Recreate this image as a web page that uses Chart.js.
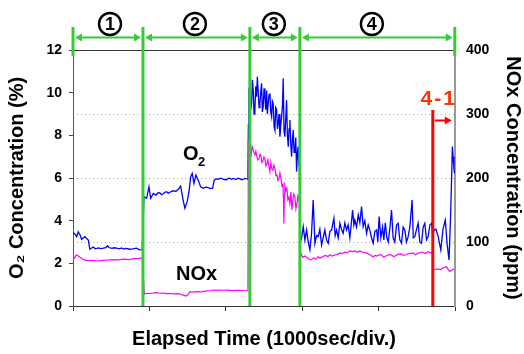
<!DOCTYPE html>
<html>
<head>
<meta charset="UTF-8">
<title>O2 / NOx concentration</title>
<script src="https://cdn.jsdelivr.net/npm/chart.js"></script>
<style>
  body { margin: 0; background: #fff; }
  #wrap { width: 524px; height: 354px; }
</style>
</head>
<body>
<div id="wrap"><canvas id="chart" width="524" height="354"></canvas></div>
<script>
// time in seconds (1 div = 1000 s)
const phaseEdges = [0, 936, 2366, 3035, 5107];
const phaseLabels = ['1', '2', '3', '4'];
const phaseLabelTimes = [495, 1631, 2687, 3998];
const subPhaseTime = 4813;
const subPhaseLabel = '4-1';

// O2 (%), left axis
const o2T1 = [0, 25, 50, 70, 95, 115, 140, 160, 185, 205, 225, 250, 270, 300, 340, 370, 405, 440, 460, 480, 520, 550, 585, 620, 650, 675, 710, 760, 800, 850, 890, 925];
const o2V1 = [3.45, 3.38, 3.25, 3.48, 3.33, 3.12, 3.20, 3.25, 3.15, 3.09, 2.66, 2.72, 2.76, 2.68, 2.72, 2.69, 2.71, 2.74, 2.82, 2.74, 2.70, 2.73, 2.71, 2.68, 2.72, 2.67, 2.70, 2.66, 2.68, 2.71, 2.63, 2.64];
const o2T2 = [950, 985, 1016, 1039, 1074, 1110, 1140, 1163, 1185, 1203, 1230, 1253, 1275, 1297, 1320, 1342, 1377, 1409, 1440, 1461, 1480, 1497, 1512, 1528, 1555, 1574, 1595, 1618, 1644, 1675, 1707, 1742, 1775, 1809, 1840, 1868, 1889, 1915, 1943, 1970, 1992, 2020, 2055, 2080, 2099, 2120, 2143, 2165, 2186, 2210, 2233, 2255, 2273, 2300, 2322, 2340];
const o2V2 = [5.12, 5.05, 5.59, 5.05, 5.28, 5.20, 5.31, 5.30, 5.22, 5.25, 5.33, 5.36, 5.29, 5.33, 5.38, 5.40, 5.38, 5.47, 5.62, 5.20, 4.85, 4.58, 4.75, 4.89, 5.44, 6.06, 6.22, 5.75, 6.14, 5.90, 5.59, 5.52, 5.57, 5.55, 5.50, 5.52, 5.90, 5.96, 5.94, 5.99, 5.97, 5.93, 5.92, 5.99, 5.98, 5.94, 5.98, 5.95, 5.94, 5.99, 5.96, 5.92, 5.93, 5.98, 5.96, 5.95];
const o2T3 = [2346, 2353, 2366, 2378, 2389, 2400, 2411, 2422, 2433, 2445, 2456, 2466, 2477, 2489, 2500, 2511, 2523, 2533, 2544, 2556, 2567, 2578, 2590, 2600, 2611, 2622, 2634, 2645, 2657, 2667, 2678, 2690, 2701, 2712, 2724, 2735, 2745, 2757, 2768, 2780, 2791, 2802, 2812, 2823, 2834, 2846, 2857, 2868, 2880, 2890, 2901, 2913, 2924, 2935, 2946, 2957, 2968, 2980, 2991, 3002, 3012, 3020, 3028];
const o2V3 = [8.5, 10.2, 10.28, 9.2, 9.5, 10.6, 10.1, 9.0, 9.19, 10.3, 9.81, 10.75, 10.1, 9.3, 9.5, 10.0, 10.44, 9.1, 9.34, 10.2, 9.81, 9.2, 10.1, 9.0, 9.5, 9.9, 9.97, 9.1, 8.87, 9.6, 9.5, 8.4, 8.25, 9.3, 9.19, 8.3, 8.56, 9.0, 7.94, 8.5, 8.87, 9.4, 10.67, 8.2, 7.94, 8.8, 9.66, 8.0, 7.47, 8.3, 8.72, 7.6, 7.0, 7.8, 8.25, 7.2, 7.31, 7.9, 6.3, 7.2, 7.47, 6.6, 6.5];
const o2T4 = [3042, 3058, 3080, 3102, 3125, 3146, 3169, 3191, 3213, 3236, 3258, 3280, 3302, 3325, 3347, 3369, 3391, 3414, 3436, 3459, 3490, 3507, 3525, 3548, 3570, 3592, 3614, 3637, 3659, 3681, 3704, 3724, 3740, 3757, 3770, 3793, 3816, 3837, 3860, 3882, 3904, 3927, 3949, 3971, 3993, 4015, 4038, 4061, 4078, 4095, 4118, 4141, 4158, 4178, 4198, 4216, 4238, 4261, 4282, 4305, 4328, 4349, 4372, 4395, 4416, 4439, 4461, 4483, 4506, 4536, 4552, 4573, 4596, 4617, 4639, 4662, 4684, 4706, 4729, 4751, 4773, 4796, 4813, 4830, 4855, 4885, 4920, 4950, 4980, 5005, 5030, 5050, 5065, 5075, 5085, 5096, 5105];
const o2V4 = [3.0, 3.2, 3.72, 3.09, 3.56, 3.0, 2.63, 3.4, 4.97, 2.94, 3.3, 3.25, 3.6, 2.86, 3.2, 3.56, 3.1, 2.94, 3.5, 3.56, 4.11, 3.3, 3.56, 3.2, 3.88, 3.6, 3.41, 3.9, 3.56, 3.8, 3.2, 3.9, 4.5, 3.8, 4.03, 3.7, 4.27, 3.9, 4.66, 3.72, 4.0, 3.4, 3.8, 3.56, 3.2, 2.94, 3.5, 3.56, 3.0, 4.19, 3.2, 3.7, 3.1, 3.9, 3.2, 3.0, 3.6, 4.5, 3.2, 3.0, 3.8, 3.88, 3.1, 2.94, 3.7, 3.56, 3.0, 3.25, 3.7, 4.97, 3.2, 3.25, 3.6, 3.88, 3.0, 2.94, 3.7, 3.88, 3.1, 3.25, 3.8, 3.88, 3.3, 3.56, 3.6, 3.25, 2.63, 3.6, 4.03, 2.9, 2.16, 4.1, 6.06, 7.47, 7.0, 6.4, 6.22];

// NOx (ppm), right axis
const noxT1 = [0, 20, 45, 70, 95, 115, 150, 200, 260, 330, 400, 470, 540, 610, 680, 750, 820, 880, 925];
const noxV1 = [77, 75, 80, 78, 76, 74.5, 72, 70.8, 71.5, 70.3, 71.2, 71.9, 72.4, 72.0, 73.1, 72.6, 74, 74.5, 75];
const noxT2 = [955, 990, 1029, 1070, 1119, 1160, 1207, 1250, 1297, 1350, 1400, 1431, 1475, 1511, 1541, 1564, 1600, 1650, 1700, 1742, 1790, 1840, 1876, 1920, 1970, 2020, 2060, 2099, 2150, 2200, 2250, 2300, 2340];
const noxV2 = [18.75, 19.8, 19.5, 20.3, 20.8, 19.9, 20, 19.2, 19.5, 18.8, 19.4, 18.75, 17, 15.6, 18, 22.4, 21.8, 22.4, 22.0, 22.4, 23.5, 24.2, 25, 24.4, 25, 24.6, 24.8, 24.5, 24.0, 24.6, 24.2, 23.8, 24];
const noxT3 = [2346, 2353, 2366, 2376, 2386, 2396, 2406, 2420, 2433, 2446, 2460, 2473, 2487, 2500, 2513, 2527, 2540, 2553, 2567, 2580, 2594, 2607, 2620, 2634, 2647, 2660, 2674, 2688, 2701, 2714, 2728, 2741, 2754, 2768, 2781, 2794, 2808, 2815, 2821, 2828, 2834, 2848, 2861, 2874, 2888, 2901, 2915, 2928, 2941, 2955, 2968, 2982, 2995, 3008, 3022, 3030];
const noxV3 = [254, 250, 252, 244, 238, 249, 246, 240, 236, 242, 233, 228, 230, 237, 235, 224, 226, 233, 230, 219, 222, 228, 218, 210, 224, 214, 212, 220, 215, 204, 205, 196, 198, 208, 200, 188, 190, 170, 129, 175, 188, 180, 184, 166, 170, 160, 178, 150, 165, 175, 171, 152, 160, 172, 166, 158];
const noxT4 = [3042, 3058, 3075, 3102, 3142, 3182, 3222, 3250, 3276, 3300, 3329, 3355, 3383, 3410, 3436, 3463, 3490, 3516, 3543, 3570, 3600, 3637, 3670, 3704, 3737, 3770, 3804, 3837, 3877, 3927, 3971, 4015, 4040, 4064, 4095, 4125, 4155, 4185, 4220, 4261, 4290, 4318, 4355, 4395, 4420, 4452, 4500, 4550, 4580, 4613, 4650, 4680, 4715, 4746, 4787, 4807, 4820, 4840, 4880, 4920, 4960, 4996, 5014, 5041, 5067, 5085, 5100];
const noxV4 = [85, 79.7, 76, 78, 74.5, 72, 75, 73, 77, 75, 76, 78, 79, 77, 80, 78, 79, 80, 81, 83, 82, 84, 83, 86, 85, 86, 84, 86, 84, 83, 80, 77, 79, 78, 80, 80, 76, 78, 80, 80, 77, 79, 81, 81.5, 79, 80, 82, 83, 80, 82, 84, 84, 82, 85, 83, 84, 57, 57, 58, 57, 60, 61.5, 58, 54, 56, 57, 58];

function pairs(ts, vs) {
  const out = [];
  for (let p = 0; p < ts.length; p++) {
    for (let i = 0; i < ts[p].length; i++) out.push({ x: ts[p][i], y: vs[p][i] });
  }
  return out;
}
const o2Data = pairs([o2T1, o2T2, o2T3, o2T4], [o2V1, o2V2, o2V3, o2V4]);
const noxData = pairs([noxT1, noxT2, noxT3, noxT4], [noxV1, noxV2, noxV3, noxV4]);

const FONT = '"Liberation Sans", Arial, sans-serif';
const GREEN = '#33cc33';
const RED = '#ff0000';

function arrowHead(ctx, x, y, dir, len, half) {
  ctx.beginPath();
  ctx.moveTo(x, y);
  ctx.lineTo(x - dir * len, y - half);
  ctx.lineTo(x - dir * len, y + half);
  ctx.closePath();
  ctx.fill();
}

const annotations = {
  id: 'annotations',
  afterDatasetsDraw(chart) {
    const { ctx, chartArea: a, scales } = chart;
    const x = scales.x, y = scales.y;
    ctx.save();

    // frame line at the top
    ctx.strokeStyle = '#333';
    ctx.lineWidth = 1;
    ctx.beginPath();
    ctx.moveTo(a.left, a.top + 0.5);
    ctx.lineTo(a.right, a.top + 0.5);
    ctx.stroke();

    // phase boundaries
    const xs = phaseEdges.map(t => x.getPixelForValue(t));
    ctx.strokeStyle = GREEN;
    ctx.fillStyle = GREEN;
    ctx.lineWidth = 3;
    xs.forEach((px, i) => {
      const outer = i === 0 || i === xs.length - 1;
      ctx.beginPath();
      ctx.moveTo(px, 27);
      ctx.lineTo(px, outer ? a.top + 6 : a.bottom);
      ctx.stroke();
    });
    // double arrows
    const ay = 37.5;
    ctx.lineWidth = 2;
    for (let i = 0; i < xs.length - 1; i++) {
      const x1 = xs[i] + 2, x2 = xs[i + 1] - 2;
      ctx.beginPath();
      ctx.moveTo(x1 + 5, ay);
      ctx.lineTo(x2 - 5, ay);
      ctx.stroke();
      arrowHead(ctx, x1, ay, -1, 7, 4);
      arrowHead(ctx, x2, ay, 1, 7, 4);
    }
    // circled phase numbers
    ctx.strokeStyle = '#000';
    ctx.fillStyle = '#000';
    ctx.lineWidth = 2.4;
    ctx.font = 'bold 18px ' + FONT;
    ctx.textAlign = 'center';
    ctx.textBaseline = 'middle';
    phaseLabels.forEach((lab, i) => {
      const cx = x.getPixelForValue(phaseLabelTimes[i]);
      ctx.beginPath();
      ctx.arc(cx, 24, 11, 0, Math.PI * 2);
      ctx.stroke();
      ctx.fillText(lab, cx, 25);
    });

    // sub phase 4-1
    const rx = x.getPixelForValue(subPhaseTime);
    ctx.strokeStyle = RED;
    ctx.fillStyle = RED;
    ctx.lineWidth = 3;
    ctx.beginPath();
    ctx.moveTo(rx, 110);
    ctx.lineTo(rx, a.bottom);
    ctx.stroke();
    ctx.lineWidth = 2;
    ctx.beginPath();
    ctx.moveTo(rx + 2, 120.5);
    ctx.lineTo(rx + 13, 120.5);
    ctx.stroke();
    arrowHead(ctx, rx + 19, 120.5, 1, 7, 4);
    ctx.fillStyle = '#ff3300';
    ctx.font = 'bold 21px ' + FONT;
    ctx.textBaseline = 'alphabetic';
    ctx.letterSpacing = '2px';
    ctx.fillText(subPhaseLabel, rx + 6, 105);
    ctx.letterSpacing = '0px';

    // series labels
    ctx.fillStyle = '#000';
    ctx.textAlign = 'left';
    ctx.font = 'bold 20px ' + FONT;
    const ox = x.getPixelForValue(1471), oy = y.getPixelForValue(6.84);
    ctx.fillText('O', ox, oy);
    ctx.font = 'bold 13px ' + FONT;
    ctx.fillText('2', ox + 15, oy + 6);
    ctx.font = 'bold 20px ' + FONT;
    ctx.fillText('NOx', x.getPixelForValue(1377), y.getPixelForValue(1.24));
    ctx.restore();
  }
};

const titleFont = { family: FONT, size: 20, weight: 'bold', lineHeight: 1 };
const tickFont = { family: FONT, size: 14, weight: 'bold' };

new Chart(document.getElementById('chart'), {
  type: 'line',
  data: {
    datasets: [
      { label: 'NOx', data: noxData, yAxisID: 'y2', borderColor: '#ff00ff', borderWidth: 1.2, pointRadius: 0, tension: 0 },
      { label: 'O2', data: o2Data, yAxisID: 'y', borderColor: '#0000ff', borderWidth: 1.3, pointRadius: 0, tension: 0 }
    ]
  },
  options: {
    responsive: false,
    animation: false,
    layout: { padding: { top: 50, left: 0, right: 0, bottom: 0 } },
    plugins: { legend: { display: false }, tooltip: { enabled: false } },
    scales: {
      x: {
        type: 'linear', min: 0, max: 5110,
        afterFit: s => { s.height = 48; },
        ticks: { stepSize: 1000, display: false, includeBounds: false },
        grid: { drawOnChartArea: false, tickLength: 5, color: '#333' },
        border: { color: '#333', width: 1 },
        title: { display: true, text: 'Elapsed Time (1000sec/div.)', font: titleFont, color: '#000', padding: { top: 0, bottom: 5 } }
      },
      y: {
        position: 'left', min: 0, max: 12,
        afterFit: s => { s.width = 73; },
        ticks: { stepSize: 2, font: tickFont, color: '#000', padding: 7 },
        grid: { drawOnChartArea: false, tickLength: 4, color: '#444' },
        border: { color: '#555', width: 1 },
        title: { display: true, text: 'O₂ Concentration (%)', font: titleFont, color: '#000', padding: { top: 7, bottom: 0 } }
      },
      y2: {
        position: 'right', min: 0, max: 400,
        afterFit: s => { s.width = 69; },
        ticks: { stepSize: 100, font: tickFont, color: '#000', padding: 11 },
        grid: {
          drawOnChartArea: true, drawTicks: false, lineWidth: 1,
          color: c => (c.tick && (c.tick.value === 0 || c.tick.value === 400)) ? 'rgba(0,0,0,0)' : '#aaa'
        },
        border: { color: '#999', width: 2, dash: [1, 3] },
        title: { display: true, text: 'NOx Concentration (ppm)', font: titleFont, color: '#000', padding: { top: 1, bottom: 0 } }
      }
    }
  },
  plugins: [annotations]
});
</script>
</body>
</html>
